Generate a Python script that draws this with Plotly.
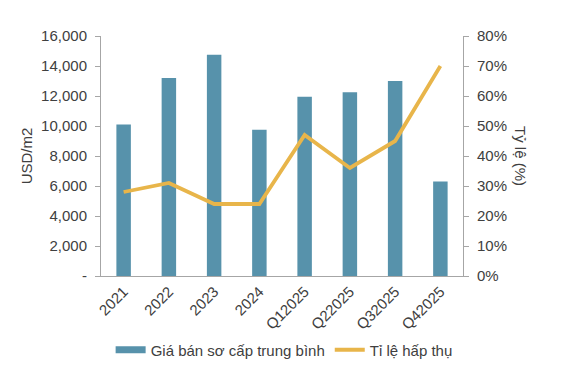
import plotly.graph_objects as go

categories = ["2021", "2022", "2023", "2024", "Q12025", "Q22025", "Q32025", "Q42025"]
price = [10100, 13200, 14750, 9750, 11950, 12250, 13000, 6300]
absorption = [28, 31, 24, 24, 47, 36, 45, 70]
left_ticks = [0, 2000, 4000, 6000, 8000, 10000, 12000, 14000, 16000]
left_ticktext = ["-", "2,000", "4,000", "6,000", "8,000", "10,000", "12,000", "14,000", "16,000"]
right_ticks = [0, 10, 20, 30, 40, 50, 60, 70, 80]
right_ticktext = [f"{v}%" for v in right_ticks]

font_family = "Liberation Sans, Arial, sans-serif"
text_color = "#404040"
axis_color = "#a6a6a6"
bar_color = "#5792ab"
line_color = "#e8b54a"

fig = go.Figure()
fig.add_trace(go.Bar(x=categories, y=price, name="Giá bán sơ cấp trung bình",
                     marker=dict(color=bar_color, line=dict(width=0)), width=0.32,
                     yaxis="y", showlegend=False))
# legend entry for the bars (wide flat swatch as in the reference)
fig.add_trace(go.Scatter(x=[None], y=[None], name="Giá bán sơ cấp trung bình", mode="lines",
                         line=dict(color=bar_color, width=7), yaxis="y"))
fig.add_trace(go.Scatter(x=categories, y=absorption, name="Tỉ lệ hấp thụ", mode="lines",
                         line=dict(color=line_color, width=3.8), yaxis="y2"))

fig.update_layout(
    width=574, height=379,
    margin=dict(l=101, r=111, t=36, b=103, autoexpand=False),
    paper_bgcolor="white", plot_bgcolor="white",
    font=dict(family=font_family, size=15, color=text_color),
    showlegend=True,
    legend=dict(orientation="h", x=0.495, xref="container", xanchor="center",
                y=(379 - 350) / 379, yref="container", yanchor="middle",
                font=dict(size=15, color=text_color), itemwidth=30, tracegroupgap=0),
    xaxis=dict(showline=True, linecolor=axis_color, linewidth=1, ticks="", tickangle=-45,
               showgrid=False, tickfont=dict(size=15), automargin=False),
    yaxis=dict(range=[0, 16000], tickvals=left_ticks, ticktext=left_ticktext,
               showline=True, linecolor=axis_color, ticks="outside", ticklen=5,
               tickcolor=axis_color, showgrid=False, zeroline=False, automargin=False,
               tickfont=dict(size=15), ticklabelstandoff=5,
               title=dict(text="USD/m2", standoff=4, font=dict(size=15))),
    yaxis2=dict(range=[0, 80], tickvals=right_ticks, ticktext=right_ticktext,
                overlaying="y", side="right", showline=True, linecolor=axis_color,
                ticks="outside", ticklen=5, tickcolor=axis_color, showgrid=False,
                zeroline=False, automargin=False, tickfont=dict(size=15),
                ticklabelstandoff=5),
    annotations=[dict(text="Tỷ lệ (%)", textangle=90, xref="paper", yref="paper",
                      x=1.0, xshift=58, xanchor="center", y=0.5, yanchor="middle",
                      showarrow=False, font=dict(size=15, color=text_color))],
)

fig.write_html("out.html", config={"displayModeBar": False},
               post_script="document.body.style.margin='0';")
